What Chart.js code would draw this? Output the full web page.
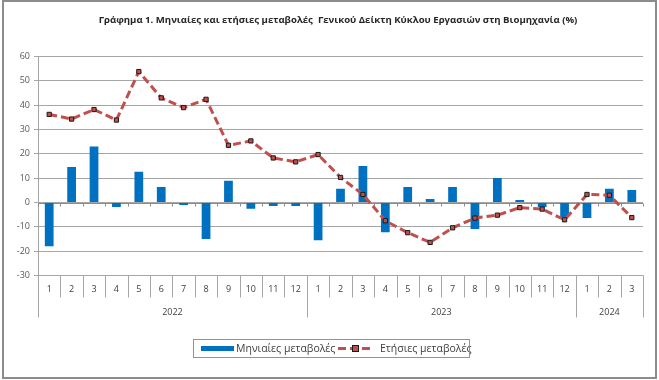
<!DOCTYPE html>
<html>
<head>
<meta charset="utf-8">
<script src="https://cdn.jsdelivr.net/npm/chart.js@4.4.1/dist/chart.umd.min.js"></script>
<style>
  html, body { margin: 0; padding: 0; background: #fff; }
</style>
</head>
<body>
<canvas id="chart" width="659" height="380"></canvas>
<script>
// categories: months, grouped by year
const months = ["1","2","3","4","5","6","7","8","9","10","11","12",
                "1","2","3","4","5","6","7","8","9","10","11","12",
                "1","2","3"];
const years = ["2022", "2023", "2024"];
const monthsPerYear = [12, 12, 3];

// series
const monthlyLabel = "Μηνιαίες μεταβολές";
const annualLabel = "Ετήσιες μεταβολές";
const monthly = [-18.0, 14.6, 23.0, -1.8, 12.6, 6.4, -1.0, -15.0, 8.9, -2.6, -1.4, -1.4,
                 -15.5, 5.6, 15.0, -12.2, 6.4, 1.4, 6.4, -10.9, 10.1, 1.0, -1.9, -6.0,
                 -6.4, 5.6, 5.1];
const annual = [36.2, 34.3, 38.2, 33.9, 53.8, 43.0, 39.0, 42.4, 23.5, 25.3, 18.3, 16.7,
                19.7, 10.3, 3.3, -7.5, -12.4, -16.4, -10.4, -6.4, -5.2, -2.1, -2.7, -7.1,
                3.3, 3.0, -6.2];

// y axis
const yMin = -30, yMax = 60, yStep = 10;

const titleText = "Γράφημα 1. Μηνιαίες και ετήσιες μεταβολές  Γενικού Δείκτη Κύκλου Εργασιών στη Βιομηχανία (%)";

const barColor = "#0070C0";
const lineColor = "#C0504D";
const gridColor = "#A6A6A6";
const textColor = "#404040";
const font = "Open Sans";

// Excel-like decorations: zero axis, two level category axis, frame, title, legend
const excelFrame = {
  id: "excelFrame",
  beforeDatasetsDraw(chart) {
    const { ctx, chartArea: a, scales: { x, y } } = chart;
    const y0 = Math.round(y.getPixelForValue(0)) + 0.5;
    const half = (x.getPixelForValue(1) - x.getPixelForValue(0)) / 2;
    ctx.save();
    ctx.strokeStyle = "#8C8C8C";
    ctx.lineWidth = 1;
    ctx.beginPath();
    ctx.moveTo(a.left, y0);
    ctx.lineTo(a.right, y0);
    for (let i = 0; i <= months.length; i++) {
      const px = Math.round(x.getPixelForValue(i) - half) + 0.5;
      ctx.moveTo(px, y0);
      ctx.lineTo(px, y0 + 3);
    }
    ctx.stroke();
    ctx.restore();
  },
  afterDraw(chart) {
    const { ctx, chartArea: a, scales: { x } } = chart;
    const half = (x.getPixelForValue(1) - x.getPixelForValue(0)) / 2;
    ctx.save();

    // month separators
    ctx.strokeStyle = gridColor;
    ctx.lineWidth = 1;
    ctx.beginPath();
    for (let i = 0; i <= months.length; i++) {
      const px = Math.round(x.getPixelForValue(i) - half) + 0.5;
      ctx.moveTo(px, a.bottom);
      ctx.lineTo(px, a.bottom + 22);
    }
    ctx.stroke();

    // year groups
    ctx.fillStyle = textColor;
    ctx.font = "9px '" + font + "'";
    ctx.textAlign = "center";
    ctx.textBaseline = "middle";
    let start = 0;
    ctx.beginPath();
    for (let g = 0; g < years.length; g++) {
      const end = start + monthsPerYear[g];
      const left = x.getPixelForValue(start) - half;
      const right = x.getPixelForValue(end - 1) + half;
      if (g === 0) {
        ctx.moveTo(Math.round(left) + 0.5, a.bottom);
        ctx.lineTo(Math.round(left) + 0.5, a.bottom + 42);
      }
      ctx.moveTo(Math.round(right) + 0.5, a.bottom);
      ctx.lineTo(Math.round(right) + 0.5, a.bottom + 42);
      ctx.fillText(years[g], (left + right) / 2, a.bottom + 37);
      start = end;
    }
    ctx.stroke();

    // title
    ctx.fillStyle = "#262626";
    ctx.font = "bold 9.6px '" + font + "'";
    ctx.fillText(titleText, 338, 20.5);

    // legend
    const lx = 193.5, ly = 339.5, lw = 276, lh = 18;
    ctx.fillStyle = barColor;
    ctx.fillRect(201, 346, 33, 5);
    ctx.fillStyle = textColor;
    ctx.font = "10.5px '" + font + "'";
    ctx.textAlign = "left";
    ctx.fillText(monthlyLabel, 236, 349);
    ctx.strokeStyle = lineColor;
    ctx.lineWidth = 3;
    ctx.setLineDash([8, 4]);
    ctx.beginPath();
    ctx.moveTo(338, 348.5);
    ctx.lineTo(374, 348.5);
    ctx.stroke();
    ctx.setLineDash([]);
    ctx.fillStyle = lineColor;
    ctx.fillRect(352.5, 345.5, 6, 6);
    ctx.strokeStyle = "#1a1a1a";
    ctx.lineWidth = 1;
    ctx.strokeRect(352.5, 345.5, 6, 6);
    ctx.fillStyle = textColor;
    ctx.fillText(annualLabel, 380, 349);
    ctx.strokeStyle = "#D07A78";
    ctx.strokeRect(lx, ly, lw, lh);

    // chart frame
    ctx.strokeStyle = "#8C8C8C";
    ctx.lineWidth = 2;
    ctx.strokeRect(3, 1, 653, 377);
    ctx.restore();
  }
};

new Chart(document.getElementById("chart"), {
  data: {
    labels: months,
    datasets: [
      {
        type: "line",
        label: annualLabel,
        data: annual,
        borderColor: lineColor,
        borderWidth: 3,
        borderDash: [8, 4],
        pointStyle: "rect",
        pointRadius: 3,
        pointBorderWidth: 1,
        pointBorderColor: "#1a1a1a",
        pointBackgroundColor: lineColor,
        tension: 0,
        order: 0,
      },
      {
        type: "bar",
        label: monthlyLabel,
        data: monthly,
        backgroundColor: barColor,
        barPercentage: 0.39,
        categoryPercentage: 1,
        order: 1,
      },
    ],
  },
  options: {
    responsive: false,
    animation: false,
    devicePixelRatio: 1,
    layout: { padding: { left: 0, top: 56.5, right: 16, bottom: 0 } },
    plugins: {
      legend: { display: false },
      title: { display: false },
      tooltip: { enabled: false },
    },
    scales: {
      x: {
        type: "category",
        offset: true,
        grid: { display: false, drawTicks: false },
        border: { display: false },
        ticks: {
          autoSkip: false,
          maxRotation: 0,
          padding: 9,
          color: textColor,
          font: { family: font, size: 9 },
        },
        afterFit(scale) { scale.height = 104.5; },
      },
      y: {
        min: yMin,
        max: yMax,
        ticks: {
          stepSize: yStep,
          padding: 4,
          color: "#595959",
          font: { family: font, size: 9 },
        },
        grid: { color: gridColor, tickLength: 4 },
        border: { display: true, color: gridColor },
        afterFit(scale) { scale.width = 38; },
      },
    },
  },
  plugins: [excelFrame],
});
</script>
</body>
</html>
